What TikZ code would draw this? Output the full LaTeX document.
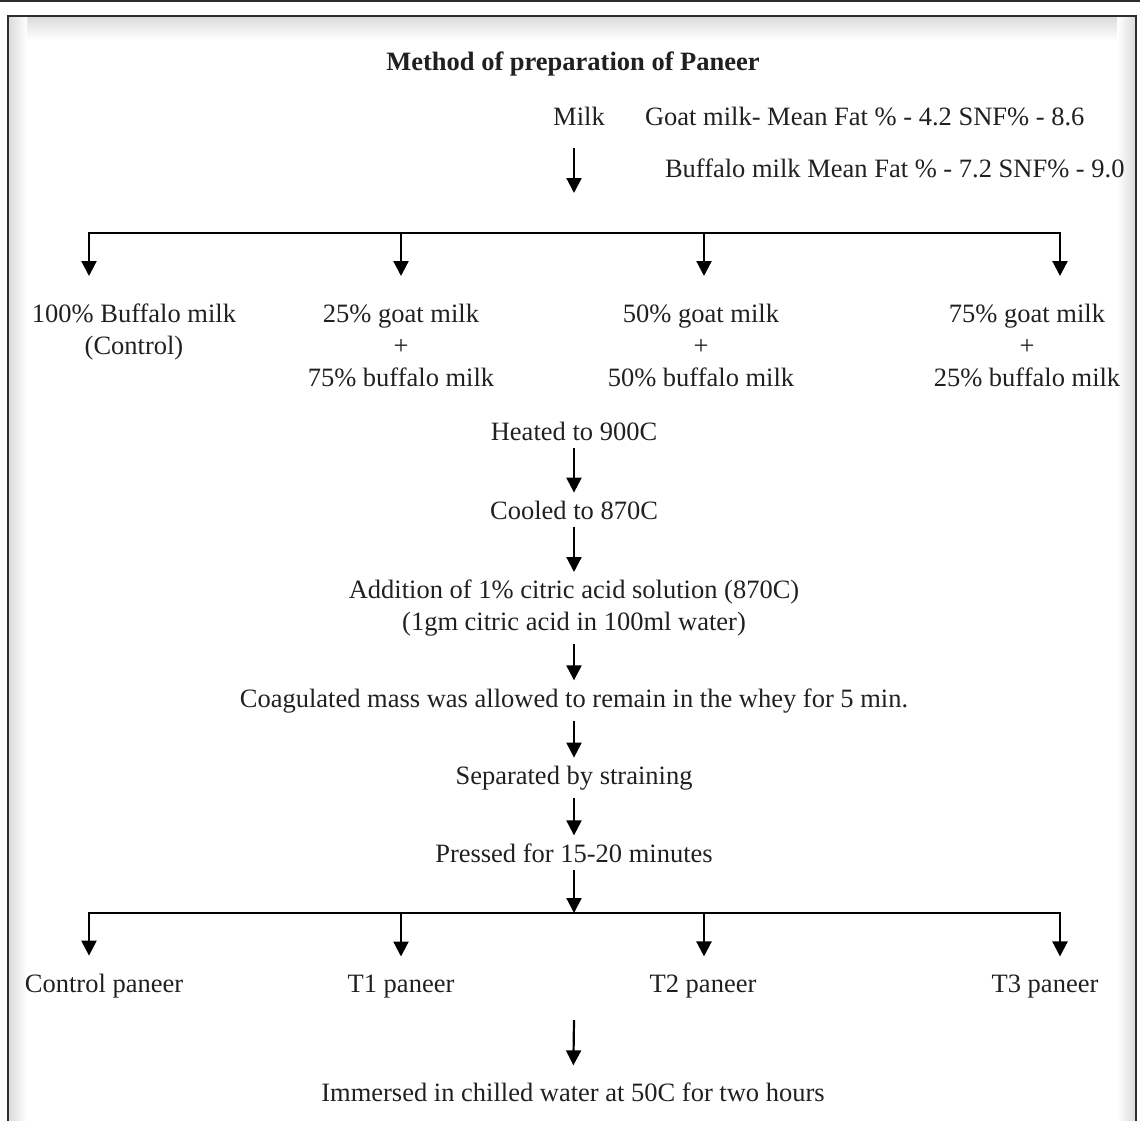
\documentclass[tikz,border=0pt]{standalone}
\usepackage{fontspec}
\setmainfont{Liberation Serif}
\usepackage{tikz}
\usetikzlibrary{arrows.meta,positioning}
\definecolor{ink}{HTML}{231F20}
\definecolor{rim}{HTML}{2E2C2D}
\tikzset{
	stage/.style={inner sep=0pt,outer sep=0pt,outer ysep=8pt,text=ink,align=center,font=\fontsize{26.5}{32}\selectfont},
	mix/.style={stage,outer ysep=28pt,anchor=north},
	leaf/.style={stage,outer ysep=18pt,anchor=base},
	note/.style={stage,anchor=base west},
	pre/.style={-{Triangle[width=15pt,length=15pt]},line width=2.2pt,draw=black},
	line/.style={line width=2.2pt,line cap=rect,draw=black}
}
\begin{document}
\begin{tikzpicture}[x=1pt,y=-1pt]
\useasboundingbox (0,0) rectangle (1140,1121);
\clip (0,0) rectangle (1140,1121);
% frame and its soft inner shadow
\shade[top color=gray!28,bottom color=white] (9,17) rectangle (1135,40);
\shade[left color=gray!28,right color=white] (9,17) rectangle (27,1121);
\shade[left color=white,right color=gray!28] (1117,17) rectangle (1135,1121);
\draw[line width=2.5pt,rim] (0,1) -- (1140,1);
\draw[line width=2.5pt,rim] (8,1130) -- (8,16) -- (1136,16) -- (1136,1130);

\node[stage,font=\fontsize{26.5}{32}\selectfont\bfseries,anchor=base] (title) at (573,71) {Method of preparation of Paneer};
\node[stage,anchor=base] (milk) at (579,126) {Milk};
\node[note] (goat) at (645,126) {Goat milk- Mean Fat \% - 4.2 SNF\% - 8.6};
\node[note] (buff) at (665,177) {Buffalo milk Mean Fat \% - 7.2 SNF\% - 9.0};
\coordinate (milkend) at (574,193);
\draw[pre,shorten <=14pt] (milk.south -| milkend) -- (milkend);

% first split
\coordinate (a1) at (89,233);
\coordinate (a2) at (401,233);
\coordinate (a3) at (704,233);
\coordinate (a4) at (1060,233);
\draw[line] (a1) -- (a4);
\node[mix] (mixA) at (134,276) {100\% Buffalo milk\\(Control)};
\node[mix] (mixB) at (401,276) {25\% goat milk\\+\\75\% buffalo milk};
\node[mix] (mixC) at (701,276) {50\% goat milk\\+\\50\% buffalo milk};
\node[mix] (mixD) at (1027,276) {75\% goat milk\\+\\25\% buffalo milk};
\draw[pre] (a1) -- (a1 |- mixA.north);
\draw[pre] (a2) -- (a2 |- mixB.north);
\draw[pre] (a3) -- (a3 |- mixC.north);
\draw[pre] (a4) -- (a4 |- mixD.north);

% main line of steps
\node[stage,anchor=base] (heat) at (574,440) {Heated to 900C};
\node[stage,anchor=base] (cool) at (574,519) {Cooled to 870C};
\node[stage,anchor=north] (acid) at (574,572) {Addition of 1\% citric acid solution (870C)\\(1gm citric acid in 100ml water)};
\node[stage,anchor=base] (coag) at (574,707) {Coagulated mass was allowed to remain in the whey for 5 min.};
\node[stage,anchor=base] (strain) at (574,784) {Separated by straining};
\node[stage,anchor=base] (press) at (574,862) {Pressed for 15-20 minutes};
\draw[pre] (heat) -- (cool);
\draw[pre] (cool) -- (acid);
\draw[pre] (acid) -- (coag);
\draw[pre] (coag) -- (strain);
\draw[pre] (strain) -- (press);

% second split
\coordinate (split) at (574,913);
\coordinate (b1) at (89,913);
\coordinate (b2) at (401,913);
\coordinate (b3) at (704,913);
\coordinate (b4) at (1060,913);
\draw[line] (b1) -- (b4);
\draw[pre] (press) -- (split);
\node[leaf] (ctrl) at (104,992) {Control paneer};
\node[leaf] (tone) at (401,992) {T1 paneer};
\node[leaf] (ttwo) at (703,992) {T2 paneer};
\node[leaf] (tthree) at (1045,992) {T3 paneer};
\draw[pre] (b1) -- (b1 |- ctrl.north);
\draw[pre] (b2) -- (b2 |- tone.north);
\draw[pre] (b3) -- (b3 |- ttwo.north);
\draw[pre] (b4) -- (b4 |- tthree.north);

\node[stage,anchor=base] (chill) at (573,1101) {Immersed in chilled water at 50C for two hours};
\coordinate (chillstart) at (574,1020);
\draw[pre,shorten >=9pt] (chillstart) -- (chill);
\end{tikzpicture}
\end{document}
